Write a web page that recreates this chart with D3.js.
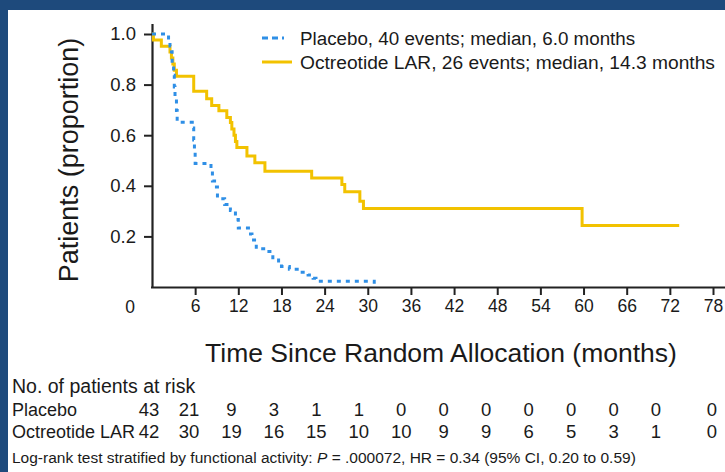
<!DOCTYPE html>
<html>
<head>
<meta charset="utf-8">
<script src="https://cdn.jsdelivr.net/npm/d3@7"></script>
<style>
  html, body { margin: 0; padding: 0; background: #ffffff; }
  svg { display: block; }
  text { font-family: "Liberation Sans", Arial, Helvetica, sans-serif; fill: #1a1a1a; }
</style>
</head>
<body>
<svg id="chart" width="725" height="472"></svg>
<script>
// Kaplan-Meier estimates (months, proportion free of progression)
const placeboTimes = [0, 2.3, 2.5, 2.7, 2.8, 3.0, 3.1, 3.2, 3.4, 3.5, 5.6, 5.8, 5.9, 6.0, 8.2, 8.4, 8.7, 9.1, 10.1, 10.9, 11.6, 12.0, 13.7, 13.9, 14.5, 16.0, 16.8, 17.6, 18.0, 19.1, 20.5, 21.7, 22.4, 22.8, 30.9];
const placeboSurv  = [1.0, 0.977, 0.953, 0.930, 0.884, 0.837, 0.791, 0.744, 0.698, 0.651, 0.628, 0.581, 0.535, 0.488, 0.465, 0.419, 0.395, 0.349, 0.326, 0.302, 0.267, 0.233, 0.209, 0.186, 0.151, 0.140, 0.116, 0.093, 0.081, 0.070, 0.058, 0.047, 0.035, 0.023, 0.0];

const octreotideTimes = [0, 0.2, 1.3, 2.5, 2.7, 2.9, 3.1, 3.4, 5.8, 7.6, 8.3, 9.3, 10.4, 10.9, 11.1, 11.4, 11.6, 11.8, 13.2, 14.3, 15.7, 22.2, 26.4, 26.8, 28.9, 29.4, 59.8, 73.3];
const octreotideSurv  = [1.0, 0.976, 0.952, 0.929, 0.905, 0.881, 0.857, 0.833, 0.774, 0.744, 0.717, 0.697, 0.670, 0.650, 0.625, 0.600, 0.575, 0.551, 0.518, 0.491, 0.458, 0.431, 0.405, 0.376, 0.339, 0.310, 0.243, 0.243];

const seriesLabels = ["Placebo, 40 events; median, 6.0 months", "Octreotide LAR, 26 events; median, 14.3 months"];
const seriesColors = ["#2f8fe6", "#f2c200"];

const xTickValues = [6, 12, 18, 24, 30, 36, 42, 48, 54, 60, 66, 72, 78];
const yTickValues = [0.2, 0.4, 0.6, 0.8, 1.0];

// Numbers at risk table
const riskTimes = [0, 6, 12, 18, 24, 30, 36, 42, 48, 54, 60, 66, 72, 78];
const riskRowLabels = ["Placebo", "Octreotide LAR"];
const placeboAtRisk = [43, 21, 9, 3, 1, 1, 0, 0, 0, 0, 0, 0, 0, 0];
const octreotideAtRisk = [42, 30, 19, 16, 15, 10, 10, 9, 9, 6, 5, 3, 1, 0];

const svg = d3.select("#chart");

// navy frame
svg.append("rect").attr("x", 0).attr("y", 0).attr("width", 725).attr("height", 472).attr("fill", "#1e4a7c");
svg.append("rect").attr("x", 8).attr("y", 10).attr("width", 717).attr("height", 462).attr("fill", "#ffffff");

const x = d3.scaleLinear().domain([0, 78]).range([152, 713]);
const y = d3.scaleLinear().domain([0, 1]).range([287, 34]);

// axes
const gx = svg.append("g").attr("transform", `translate(0,${y(0)})`)
  .call(d3.axisBottom(x).tickValues(xTickValues).tickSize(8).tickPadding(5).tickFormat(d3.format("d")));
gx.select(".domain").attr("d", `M${x(0) - 1},0.5H725`).attr("stroke", "#222").attr("stroke-width", 2.2);
gx.selectAll(".tick line").attr("stroke", "#222").attr("stroke-width", 2);
gx.selectAll(".tick text").attr("font-size", 17.5).attr("fill", "#1a1a1a");
// origin label sits left of the vertical axis
svg.append("text").attr("x", x(0) - 22).attr("y", y(0) + 26)
  .attr("text-anchor", "middle").attr("font-size", 17.5)
  .text(d3.format("d")(0));

const gy = svg.append("g").attr("transform", `translate(${x(0)},0)`)
  .call(d3.axisLeft(y).tickValues(yTickValues).tickSize(8).tickPadding(8).tickFormat(d3.format(".1f")));
gy.select(".domain").attr("d", `M0.5,24V${y(0)}`).attr("stroke", "#222").attr("stroke-width", 2.2);
gy.selectAll(".tick line").attr("stroke", "#222").attr("stroke-width", 2);
gy.selectAll(".tick text").attr("font-size", 18.5).attr("fill", "#1a1a1a");

// axis titles
svg.append("text").attr("transform", "translate(78,160) rotate(-90)")
  .attr("text-anchor", "middle").attr("font-size", 27).text("Patients (proportion)");
svg.append("text").attr("x", 441).attr("y", 362)
  .attr("text-anchor", "middle").attr("font-size", 26.5)
  .text("Time Since Random Allocation (months)");

// survival curves
const line = d3.line().x(d => x(d[0])).y(d => y(d[1])).curve(d3.curveStepAfter);
const octreotidePts = octreotideTimes.map((t, i) => [t, octreotideSurv[i]]);
const placeboPts = placeboTimes.map((t, i) => [t, placeboSurv[i]]);

svg.append("path").datum(octreotidePts).attr("d", line)
  .attr("fill", "none").attr("stroke", seriesColors[1]).attr("stroke-width", 3);
svg.append("path").datum(placeboPts).attr("d", line)
  .attr("fill", "none").attr("stroke", seriesColors[0]).attr("stroke-width", 3)
  .attr("stroke-dasharray", "4,5");

// legend
const legend = svg.append("g");
legend.append("line").attr("x1", 262).attr("x2", 292).attr("y1", 38).attr("y2", 38)
  .attr("stroke", seriesColors[0]).attr("stroke-width", 3).attr("stroke-dasharray", "6,4,6,4,2,8");
legend.append("line").attr("x1", 262).attr("x2", 292).attr("y1", 62).attr("y2", 62)
  .attr("stroke", seriesColors[1]).attr("stroke-width", 3);
legend.append("text").attr("x", 300).attr("y", 45).attr("font-size", 18.8).text(seriesLabels[0]);
legend.append("text").attr("x", 300).attr("y", 69).attr("font-size", 19.2).text(seriesLabels[1]);

// numbers at risk
const riskX = d3.scaleLinear().domain([0, 6, 72, 78]).range([149, 189, 656, 712]);
const table = svg.append("g");
table.append("text").attr("x", 12).attr("y", 393).attr("font-size", 19.5).text("No. of patients at risk");
const rows = [placeboAtRisk, octreotideAtRisk];
const rowY = [416, 438];
rows.forEach((vals, r) => {
  table.append("text").attr("x", 12).attr("y", rowY[r]).attr("font-size", 18).text(riskRowLabels[r]);
  table.selectAll(null).data(vals).enter().append("text")
    .attr("x", (d, i) => riskX(riskTimes[i]))
    .attr("y", rowY[r]).attr("text-anchor", "middle").attr("font-size", 18.5)
    .text(d => d);
});

// footnote
const foot = svg.append("text").attr("x", 12).attr("y", 463).attr("font-size", 15.5);
foot.append("tspan").text("Log-rank test stratified by functional activity: ");
foot.append("tspan").attr("font-style", "italic").text("P");
foot.append("tspan").text(" = .000072, HR = 0.34 (95% CI, 0.20 to 0.59)");
</script>
</body>
</html>
